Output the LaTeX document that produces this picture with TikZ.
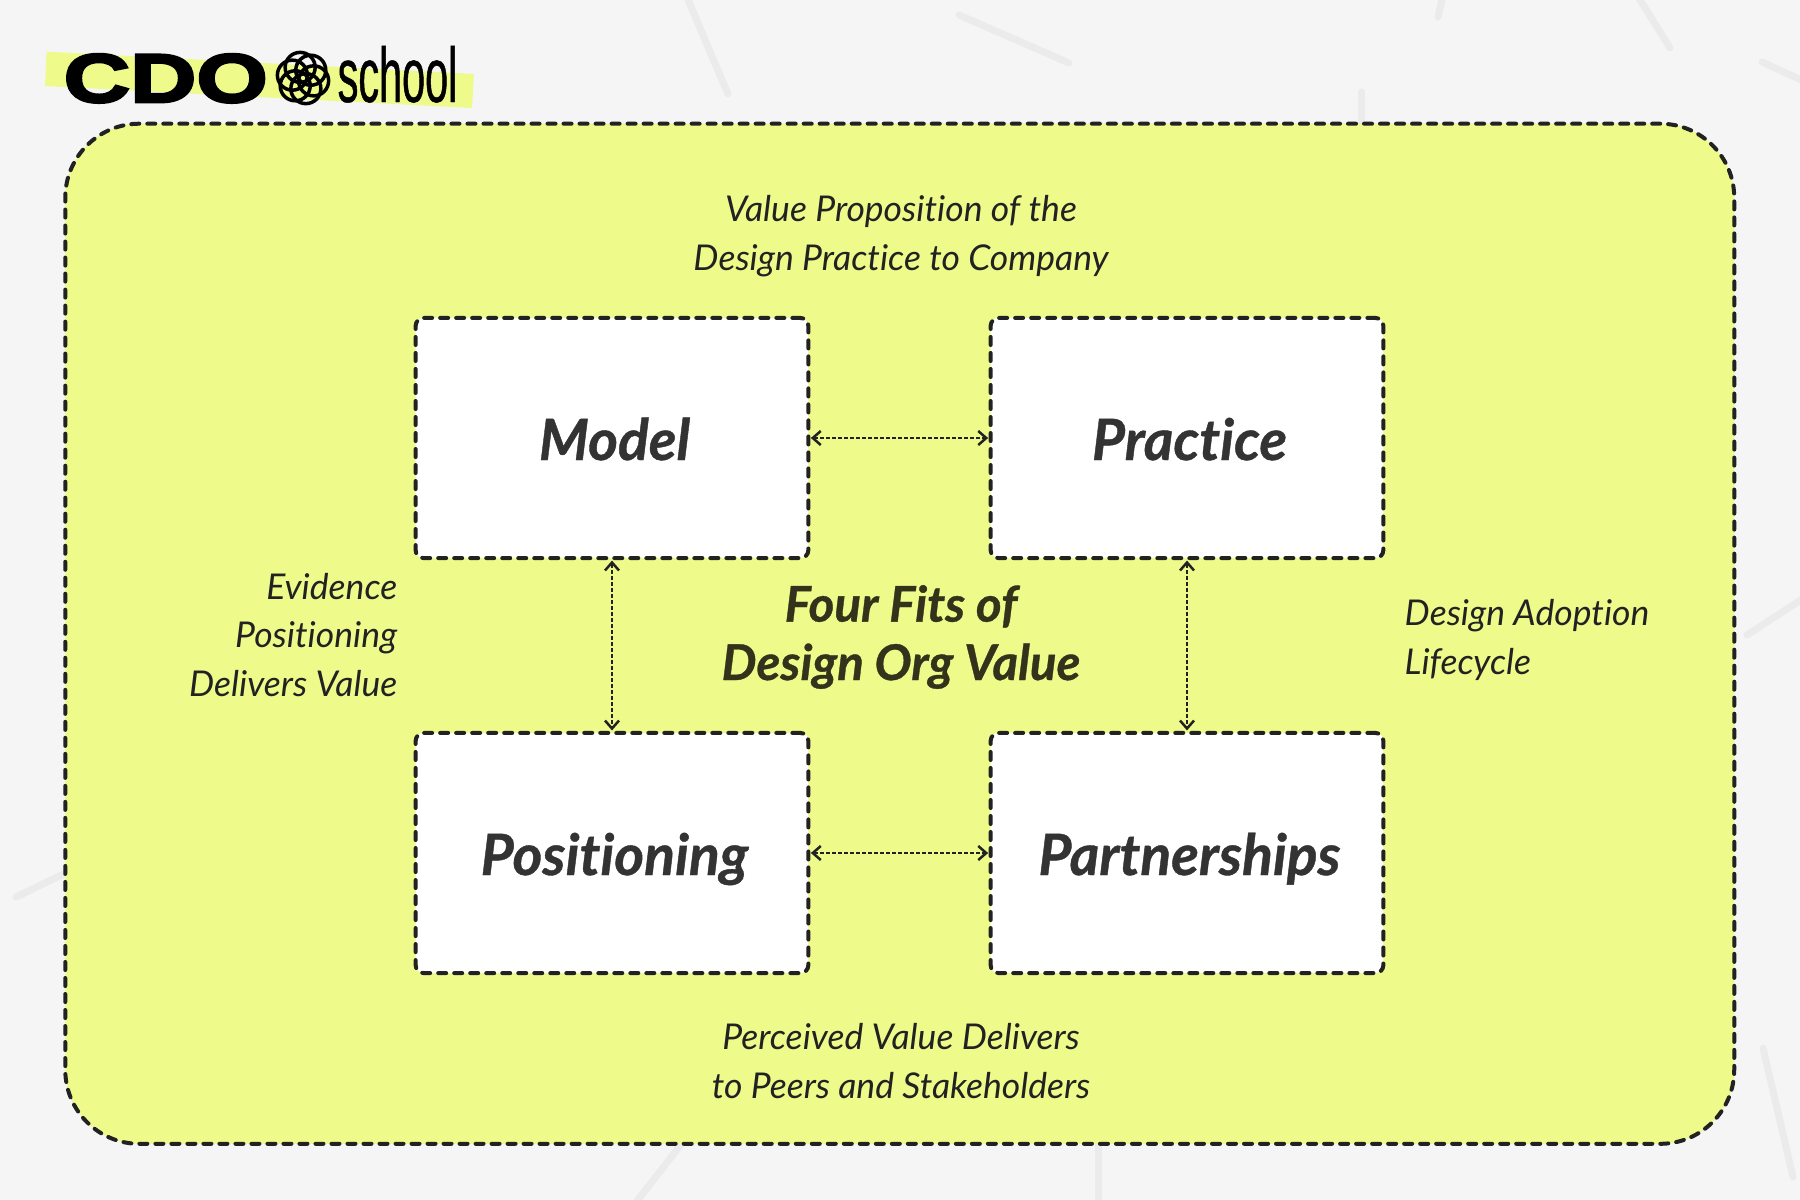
\documentclass[tikz,border=0pt]{standalone}
\usepackage{fontspec}
\usetikzlibrary{arrows.meta}
\setmainfont{Lato}
\newfontfamily\lblfont{Lato Italic}[Ligatures=NoCommon]
\newfontfamily\headfont{Lato Bold Italic}[Ligatures=NoCommon,FakeBold=0.7]
\newfontfamily\cdofont{Liberation Sans Bold}[FakeStretch=1.34,FakeBold=4]
\newfontfamily\schoolfont{Liberation Sans}[FakeStretch=0.535,FakeBold=0.6]
\definecolor{pagebg}{HTML}{F5F5F5}
\definecolor{streak}{HTML}{EBEBEB}
\definecolor{lime}{HTML}{EEFB8A}
\definecolor{ink}{HTML}{222222}
\definecolor{headink}{HTML}{333333}
\definecolor{titleink}{HTML}{33331C}
\tikzset{
  x=0.01cm, y=-0.01cm,
  streakline/.style={draw=streak, line width=0.07cm, line cap=round},
  panel/.style={draw=ink, fill=lime, line width=0.04cm, line cap=round,
    dash pattern=on 0.08cm off 0.08cm, rounded corners=0.74cm, outer sep=0pt,
    minimum width=16.68cm, minimum height=10.195cm, inner sep=0pt},
  fitbox/.style={draw=ink, fill=white, line width=0.04cm, line cap=round,
    dash pattern=on 0.08cm off 0.08cm, rounded corners=0.08cm, outer sep=0pt,
    minimum width=3.925cm, minimum height=2.4cm, inner sep=0pt,
    text=headink, text height=0.44cm, text depth=0cm,
    execute at begin node={\hspace*{0.05cm}},
    font=\headfont\fontsize{16.2}{18}\selectfont},
  note/.style={text=ink, font=\lblfont\fontsize{10.1}{13.66}\selectfont, inner sep=0pt, anchor=base},
  centre title/.style={text=titleink, font=\headfont\fontsize{14}{16.6}\selectfont, inner sep=0pt, anchor=base, align=center},
  link/.style={draw=ink, line width=0.023cm, dash pattern=on 0.04cm off 0.02cm,
    {Straight Barb[length=0.08cm,width=0.14cm,line width=0.025cm]}-{Straight Barb[length=0.08cm,width=0.14cm,line width=0.025cm]},
    shorten >=0.025cm, shorten <=0.025cm},
  petal/.style={draw=black, line width=0.035cm},
}
\begin{document}
\begin{tikzpicture}
  % page background and faint streaks
  \fill[pagebg] (0,0) rectangle (1800,1200);
  \useasboundingbox (0,0) rectangle (1800,1200);
  \foreach \ax/\ay/\bx/\by in {686/-5/728/94, 959/15/1069/63, 1443/-5/1438/17, 1637/-5/1670/48,
      1762/62/1810/84, 1361/92/1361/140, 1747/635/1810/594, 1763/1048/1793/1177,
      1098/1130/1098/1210, 690/1133/630/1210, 16/897/80/866}
    \draw[streakline] (\ax,\ay) -- (\bx,\by);

  % logo: highlighter stripe, word marks and flower mark
  \fill[lime] (46.7,51.7) -- (474,74) -- (472,108) -- (45,86) -- cycle;
  \node[anchor=base west, inner sep=0pt, text=black, font=\cdofont\fontsize{19.5}{20}\selectfont] (cdo) at (63,102) {CDO};
  \node[anchor=base west, inner sep=0pt, text=black, font=\schoolfont\fontsize{22}{24}\selectfont] (school) at (337,102) {school};
  \begin{scope}[shift={(303,78)}]
    \foreach \a in {15,75,...,315}
      \draw[petal] (\a:11) circle[radius=15];
  \end{scope}

  % main panel and the four fits
  \node[panel] (main) at (899.75,633.75) {};
  \node[fitbox] (model) at (612,438) {Model};
  \node[fitbox] (practice) at (1187,438) {Practice};
  \node[fitbox] (positioning) at (612,853) {Positioning};
  \node[fitbox] (partnerships) at (1187,853) {Partnerships};

  \draw[link] (model) -- (practice);
  \draw[link] (positioning) -- (partnerships);
  \draw[link] (model) -- (positioning);
  \draw[link] (practice) -- (partnerships);

  % labels along each side
  \node[note, align=center] (top note) at (901,270) {Value Proposition of the\\Design Practice to Company};
  \node[note, align=center] (bottom note) at (901,1098) {Perceived Value Delivers\\to Peers and Stakeholders};
  \node[note, align=right, anchor=base east] (left note) at (398,696) {Evidence\\Positioning\\Delivers Value};
  \node[note, align=left, anchor=base west] (right note) at (1404,674) {Design Adoption\\Lifecycle};
  \node[centre title] (title) at (901,680) {Four Fits of\\Design Org Value};
\end{tikzpicture}
\end{document}
